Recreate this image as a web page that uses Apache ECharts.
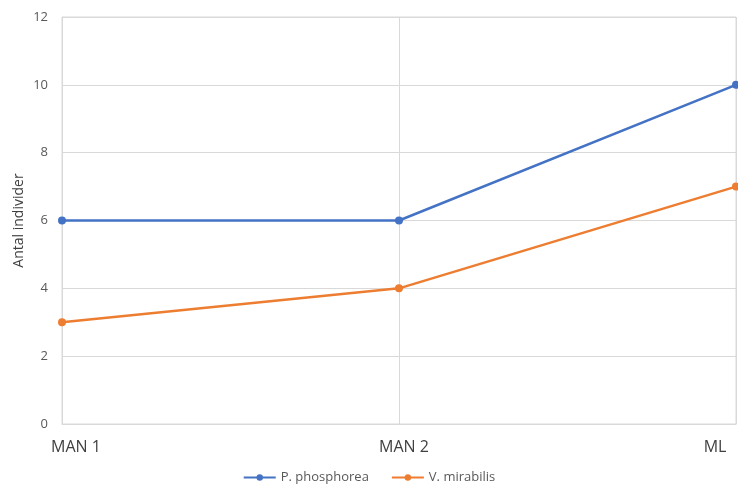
<!DOCTYPE html>
<html>
<head>
<meta charset="utf-8">
<script src="https://cdn.jsdelivr.net/npm/echarts@6/dist/echarts.min.js"></script>
<style>
  html, body { margin: 0; padding: 0; background: #fff; }
  #chart { width: 738px; height: 490px; }
</style>
</head>
<body>
<div id="chart"></div>
<script>
// Sites along the category axis
const sites = ['MAN 1', 'MAN 2', 'ML'];
// Number of individuals per site
const phosphorea = [6, 6, 10];
const mirabilis = [3, 4, 7];
// Value axis range
const yMin = 0, yMax = 12, yStep = 2;

const chart = echarts.init(document.getElementById('chart'));
chart.setOption({
  animation: false,
  grid: {
    left: 62, right: 2, top: 17, bottom: 66,
    outerBoundsMode: 'none',
    containLabel: false,
    show: true, borderColor: '#d9d9d9', borderWidth: 1
  },
  legend: {
    bottom: 1,
    left: 'center',
    itemWidth: 32,
    itemHeight: 8,
    itemGap: 22,
    textStyle: { color: '#595959', fontSize: 13, fontFamily: 'Open Sans, sans-serif' },
    data: ['P. phosphorea', 'V. mirabilis']
  },
  xAxis: {
    type: 'category',
    data: sites,
    boundaryGap: false,
    axisLine: { lineStyle: { color: '#d9d9d9' } },
    axisTick: { show: false },
    splitLine: { show: true, lineStyle: { color: '#d9d9d9' } },
    axisLabel: {
      margin: 15,
      color: '#404040',
      fontSize: 16,
      fontFamily: 'Open Sans, sans-serif',
      formatter: (v, i) => ['{a|' + v + '}', '{b|' + v + '}', '{c|' + v + '}'][i],
      rich: {
        a: { fontSize: 16, color: '#404040', padding: [0, 0, 0, 28] },
        b: { fontSize: 16, color: '#404040', padding: [0, 0, 0, 10] },
        c: { fontSize: 16, color: '#404040', padding: [0, 42, 0, 0] }
      }
    }
  },
  yAxis: {
    type: 'value',
    min: yMin,
    max: yMax,
    interval: yStep,
    name: 'Antal individer',
    nameLocation: 'middle',
    nameGap: 36,
    nameMoveOverlap: false,
    nameRotate: 90,
    nameTextStyle: { color: '#404040', fontSize: 14, fontFamily: 'Open Sans, sans-serif' },
    axisLine: { show: true, lineStyle: { color: '#d9d9d9' } },
    axisTick: { show: false },
    axisLabel: { color: '#595959', fontSize: 13, margin: 14, fontFamily: 'Open Sans, sans-serif' },
    splitLine: { lineStyle: { color: '#d9d9d9' } }
  },
  series: [
    {
      name: 'P. phosphorea',
      type: 'line',
      data: phosphorea,
      symbol: 'circle',
      symbolSize: 8,
      color: '#4472C4',
      lineStyle: { width: 2.5 }
    },
    {
      name: 'V. mirabilis',
      type: 'line',
      data: mirabilis,
      symbol: 'circle',
      symbolSize: 8,
      color: '#ED7D31',
      lineStyle: { width: 2.5 }
    }
  ]
});
</script>
</body>
</html>
